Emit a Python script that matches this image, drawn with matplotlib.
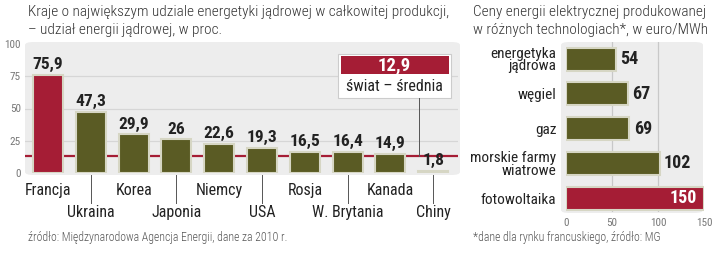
import matplotlib
matplotlib.use("Agg")
import matplotlib.pyplot as plt
from matplotlib.patches import FancyBboxPatch, Rectangle

plt.rcParams['font.family'] = ['Roboto Condensed', 'DejaVu Sans']

# Dane
countries = ['Francja', 'Ukraina', 'Korea', 'Japonia', 'Niemcy', 'USA',
             'Rosja', 'W. Brytania', 'Kanada', 'Chiny']
nuclear_share = [75.9, 47.3, 29.9, 26, 22.6, 19.3, 16.5, 16.4, 14.9, 1.8]
world_avg = 12.9

technologies = ['energetyka\njądrowa', 'węgiel', 'gaz', 'morskie farmy\nwiatrowe', 'fotowoltaika']
prices = [54, 67, 69, 102, 150]

RED = '#a51d35'
OLIVE = '#5a5b24'
BG = '#ededed'
EDGE = '#d6d6c4'
TXT = '#222222'
GRAY = '#777777'

W, H = 720, 254
fig = plt.figure(figsize=(W / 100, H / 100), dpi=100)
fig.patch.set_facecolor('white')


def fx(x):
    return x / W


def fy(y):
    return 1 - y / H


def fmt(v):
    return ('%g' % v).replace('.', ',')


# tla paneli
fig.patches.append(FancyBboxPatch((fx(25), fy(175)), fx(460) - fx(25), fy(42) - fy(175),
                                  boxstyle='round,pad=0,rounding_size=0.012',
                                  transform=fig.transFigure, facecolor=BG,
                                  edgecolor='none', zorder=-5))
fig.patches.append(FancyBboxPatch((fx(561), fy(213)), fx(703) - fx(561), fy(42) - fy(213),
                                  boxstyle='round,pad=0,rounding_size=0.012',
                                  transform=fig.transFigure, facecolor=BG,
                                  edgecolor='none', zorder=-5))

# Lewy wykres
ax1 = fig.add_axes([fx(25), fy(173), fx(458) - fx(25), fy(44) - fy(173)])
ax1.set_facecolor('none')
x = list(range(len(countries)))
colors = [RED] + [OLIVE] * (len(countries) - 1)
ax1.set_xlim(-0.54, 9.58)
ax1.set_ylim(0, 100)
for g in (25, 50, 75):
    ax1.axhline(g, color='#d6d6d6', lw=0.9, zorder=1)
ax1.axhline(world_avg, color=RED, lw=1.6, zorder=2)
ax1.bar(x, nuclear_share, width=0.7, color=colors, edgecolor=EDGE, linewidth=1.5, zorder=3)
for i, v in enumerate(nuclear_share):
    ax1.annotate(fmt(v), (i, v), xytext=(0, 2), textcoords='offset points',
                 ha='center', va='bottom', fontsize=12.5, fontweight='bold', color=TXT)
for i, name in enumerate(countries):
    if i % 2 == 0:
        ax1.text(i, -13.5, name, ha='center', va='center', fontsize=11.5, color=TXT, clip_on=False)
    else:
        ax1.plot([i, i], [-1.5, -23], color='#555555', lw=0.7, clip_on=False)
        ax1.text(i, -30.5, name, ha='center', va='center', fontsize=11.5, color=TXT, clip_on=False)

ax1.set_yticks([0, 25, 50, 75, 100])
ax1.tick_params(axis='y', length=0, labelsize=8, labelcolor=GRAY, pad=3)
ax1.set_xticks([])
for s in ax1.spines.values():
    s.set_visible(False)

# ramka ze srednia swiatowa
ax1.add_patch(Rectangle((6.78, 58), 2.64, 34, facecolor='white', edgecolor='#cccccc',
                        lw=0.8, zorder=4))
ax1.add_patch(Rectangle((6.84, 76.5), 2.52, 14, facecolor=RED, edgecolor='none', zorder=5))
ax1.text(8.1, 83.5, fmt(world_avg), ha='center', va='center', fontsize=13.5,
         fontweight='bold', color='white', zorder=6)
ax1.text(8.1, 67, 'świat – średnia', ha='center', va='center', fontsize=11.5,
         color=TXT, zorder=6)
ax1.plot([8.67, 8.67], [58, world_avg], color='#555555', lw=0.7, zorder=4)

fig.text(fx(28), fy(12), 'Kraje o największym udziale energetyki jądrowej w całkowitej produkcji,',
         ha='left', va='center', fontsize=11, fontweight='light', color='#333333')
fig.text(fx(28), fy(30), '– udział energii jądrowej, w proc.',
         ha='left', va='center', fontsize=11, fontweight='light', color='#333333')
fig.text(fx(28), fy(237), 'źródło: Międzynarodowa Agencja Energii, dane za 2010 r.',
         ha='left', va='center', fontsize=8.5, fontweight='light', color='#555555')

# Prawy wykres
ax2 = fig.add_axes([fx(566), fy(212), fx(704) - fx(566), fy(42) - fy(212)])
ax2.set_facecolor('none')
ax2.set_xlim(0, 150)
ax2.set_ylim(4.40, -0.49)
y = list(range(len(technologies)))
for g in (50, 100):
    ax2.axvline(g, color='#c8c8c8', lw=0.9, zorder=1)
bcolors = [OLIVE] * (len(prices) - 1) + [RED]
ax2.barh(y, prices, height=0.66, color=bcolors, edgecolor=EDGE, linewidth=1.5, zorder=3)
for i, v in enumerate(prices):
    if i == len(prices) - 1:
        ax2.annotate(str(v), (v, i), xytext=(-5, 0), textcoords='offset points',
                     ha='right', va='center', fontsize=13, fontweight='bold', color='white', zorder=5)
    else:
        ax2.annotate(str(v), (v, i), xytext=(3, 0), textcoords='offset points',
                     ha='left', va='center', fontsize=13, fontweight='bold', color=TXT, zorder=5)
ax2.set_yticks(y)
ax2.set_yticklabels(technologies, fontsize=11, color=TXT, linespacing=0.9)
ax2.set_xticks([0, 50, 100, 150])
ax2.tick_params(axis='y', length=0, pad=7)
ax2.tick_params(axis='x', length=0, labelsize=8, labelcolor=GRAY, pad=4)
for s in ax2.spines.values():
    s.set_visible(False)

fig.text(fx(473), fy(12), 'Ceny energii elektrycznej produkowanej',
         ha='left', va='center', fontsize=11, fontweight='light', color='#333333')
fig.text(fx(473), fy(30), 'w różnych technologiach*, w euro/MWh',
         ha='left', va='center', fontsize=11, fontweight='light', color='#333333')
fig.text(fx(473), fy(238), '*dane dla rynku francuskiego, źródło: MG',
         ha='left', va='center', fontsize=8.5, fontweight='light', color='#555555')

fig.savefig('out.png', dpi=100)
